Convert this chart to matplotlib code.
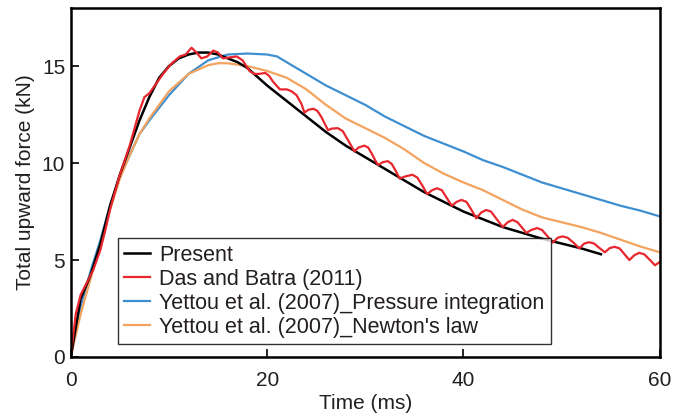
import matplotlib
matplotlib.use("Agg")
import matplotlib.pyplot as plt

plt.rcParams["font.family"] = ["Liberation Sans", "DejaVu Sans"]

# Present (black)
t_present = [0, 1, 2, 3, 4, 5, 6, 7, 8, 9, 10, 11, 12, 13, 14, 15, 16, 17, 18,
             20, 22, 24, 26, 28, 30, 32, 34, 36, 38, 40, 42, 44, 46, 48, 50, 52, 54]
f_present = [0, 3.0, 4.2, 5.8, 7.8, 9.4, 10.8, 12.2, 13.4, 14.4, 15.0, 15.4, 15.6, 15.7,
             15.7, 15.6, 15.4, 15.2, 14.9, 14.0, 13.2, 12.4, 11.6, 10.9, 10.3, 9.7,
             9.1, 8.5, 8.0, 7.5, 7.1, 6.7, 6.4, 6.1, 5.85, 5.6, 5.3]

# Das and Batra (2011) (red)
t_das = [0, 0.5, 1.0, 1.6, 2.3, 3.0, 3.5, 4.0, 5.0, 6.0, 7.0, 7.5, 8.0, 8.7, 9.4, 10.2,
         11.1, 11.7, 12.3, 12.8, 13.3, 13.9, 14.5, 15.0, 15.5, 16.2, 16.9, 17.5, 18.2,
         18.7, 19.2, 19.8, 20.2, 20.6, 21.3, 22.0, 22.5, 23.0, 23.5,
         23.8, 24.2, 24.7, 25.1, 25.5, 25.9,
         26.2, 26.6, 27.2, 27.7, 28.1, 28.5,
         28.9, 29.3, 29.9, 30.3, 30.7, 31.0,
         31.3, 31.8, 32.3, 32.7, 33.1,
         33.5, 34.0, 34.8, 35.3, 35.8,
         36.3, 36.8, 37.3, 37.8, 38.3,
         38.8, 39.3, 39.8, 40.3, 40.8,
         41.3, 41.8, 42.3, 42.8, 43.4,
         44.0, 44.5, 45.0, 45.5, 46.0,
         46.4, 46.9, 47.5, 48.0, 48.6,
         49.1, 49.6, 50.1, 50.6, 51.2,
         51.8, 52.3, 52.8, 53.3, 53.9,
         54.4, 54.9, 55.4, 55.9, 56.4,
         56.9, 57.4, 57.9, 58.4, 59.0,
         59.5, 60.0]
f_das = [0, 2.2, 3.2, 3.8, 4.5, 5.5, 6.5, 7.6, 9.4, 10.9, 12.7, 13.4, 13.6, 14.1, 14.6, 15.1,
         15.5, 15.6, 15.95, 15.7, 15.4, 15.5, 15.8, 15.7, 15.4, 15.45, 15.5, 15.3, 14.75,
         14.6, 14.6, 14.65, 14.5, 14.2, 13.8, 13.8, 13.7, 13.5, 13.05,
         12.6, 12.75, 12.8, 12.7, 12.4, 12.0,
         11.7, 11.78, 11.8, 11.65, 11.3, 10.95,
         10.6, 10.8, 10.9, 10.8, 10.45, 10.15,
         9.9, 10.05, 10.1, 9.95, 9.6,
         9.2, 9.3, 9.4, 9.25, 8.85,
         8.4, 8.6, 8.7, 8.6, 8.2,
         7.8, 8.0, 8.1, 8.0, 7.6,
         7.15, 7.45, 7.58, 7.5, 7.1,
         6.7, 6.95, 7.07, 6.95, 6.65,
         6.4, 6.55, 6.65, 6.55, 6.2,
         5.9, 6.15, 6.22, 6.15, 5.9,
         5.6, 5.85, 5.92, 5.85, 5.6,
         5.4, 5.62, 5.68, 5.6, 5.3,
         5.0, 5.25, 5.37, 5.3, 5.0,
         4.73, 4.9]

# Yettou et al. (2007) pressure integration (blue)
t_press = [0, 1, 2, 3, 4, 5, 6, 7, 8, 10, 12, 14, 16, 18, 20, 21, 22, 24, 26, 28, 30,
           32, 34, 36, 38, 40, 42, 44, 46, 48, 50, 52, 54, 56, 58, 60]
f_press = [0, 2.6, 4.4, 6.0, 7.8, 9.3, 10.4, 11.5, 12.2, 13.5, 14.6, 15.3, 15.6, 15.65,
           15.6, 15.5, 15.2, 14.6, 14.0, 13.5, 13.0, 12.4, 11.9, 11.4, 11.0, 10.6, 10.15,
           9.8, 9.4, 9.0, 8.7, 8.4, 8.1, 7.8, 7.55, 7.25]

# Yettou et al. (2007) Newton's law (orange)
t_newton = [0, 1, 2, 3, 4, 5, 6, 7, 8, 10, 12, 14, 15, 16, 18, 20, 22, 24, 26, 28, 30,
            32, 34, 36, 38, 40, 42, 44, 46, 48, 50, 52, 54, 56, 58, 60]
f_newton = [0, 2.2, 4.0, 5.8, 7.6, 9.2, 10.4, 11.5, 12.3, 13.7, 14.6, 15.05, 15.15, 15.15,
            15.0, 14.75, 14.4, 13.8, 13.0, 12.3, 11.8, 11.3, 10.7, 10.0, 9.45, 9.0, 8.6,
            8.1, 7.6, 7.2, 6.95, 6.7, 6.4, 6.05, 5.7, 5.4]

labels = ["Present", "Das and Batra (2011)",
          "Yettou et al. (2007)_Pressure integration", "Yettou et al. (2007)_Newton's law"]

text_color = "#231f20"

fig = plt.figure(figsize=(6.74, 4.19), dpi=100)
ax = fig.add_axes([0.105, 0.148, 0.874, 0.833])

ax.plot(t_press, f_press, color="#3d8fd1", lw=1.6, label=labels[2])
ax.plot(t_newton, f_newton, color="#f3a35e", lw=1.6, label=labels[3])
ax.plot(t_present, f_present, color="black", lw=1.8, label=labels[0])
ax.plot(t_das, f_das, color="#e8262d", lw=1.6, label=labels[1])

ax.set_xlim(0, 60)
ax.set_ylim(0, 18)
ax.set_xticks([0, 20, 40, 60])
ax.set_yticks([0, 5, 10, 15])
ax.tick_params(direction="in", length=6, width=1.2, labelsize=15,
               labelcolor=text_color, pad=4)
ax.tick_params(axis="x", pad=10)
for s in ax.spines.values():
    s.set_linewidth(1.8)

ax.set_xlabel("Time (ms)", fontsize=15, color=text_color, labelpad=3)
ax.set_ylabel("Total upward force (kN)", fontsize=15, color=text_color, labelpad=5)

handles, labs = ax.get_legend_handles_labels()
order = [labs.index(l) for l in labels]
leg = ax.legend([handles[i] for i in order], [labs[i] for i in order],
                loc="lower left", bbox_to_anchor=(0.08, 0.037), borderaxespad=0,
                fontsize=15.5, frameon=True, fancybox=False, edgecolor="black",
                handlelength=1.2, handletextpad=0.4, labelspacing=0.14,
                borderpad=0.3)
leg.get_frame().set_linewidth(1.0)
for txt in leg.get_texts():
    txt.set_color(text_color)

fig.savefig("out.png", dpi=100)
